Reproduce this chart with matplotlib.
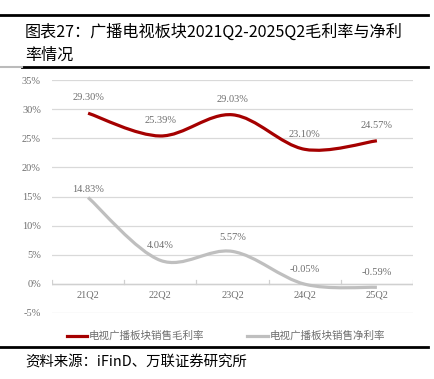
import matplotlib
matplotlib.use("Agg")
import matplotlib.pyplot as plt
from matplotlib.path import Path
from matplotlib.patches import PathPatch
from matplotlib.lines import Line2D
import numpy as np

categories = ["21Q2", "22Q2", "23Q2", "24Q2", "25Q2"]
gross_margin = [29.30, 25.39, 29.03, 23.10, 24.57]
net_margin = [14.83, 4.04, 5.57, -0.05, -0.59]
series_names = ["电视广播板块销售毛利率", "电视广播板块销售净利率"]
yticks = [-5, 0, 5, 10, 15, 20, 25, 30, 35]
title_lines = ["图表27：广播电视板块2021Q2-2025Q2毛利率与净利", "率情况"]
source = "资料来源：iFinD、万联证券研究所"

RED = "#A50000"
GRAY = "#BFBFBF"
TXT = "#6E6E6E"
CJK = ["Noto Sans CJK SC", "DejaVu Sans"]
NUM = ["Liberation Serif", "DejaVu Serif"]

W, H = 434, 379
fig = plt.figure(figsize=(W / 100, H / 100), dpi=100)

def fx(px):
    return px / W

def fy(py):
    return 1 - py / H

ax = fig.add_axes([fx(52), fy(313), fx(413) - fx(52), fy(80) - fy(313)])
ax.set_xlim(0, len(categories))
ax.set_ylim(-5, 35)
for s in ax.spines.values():
    s.set_visible(False)
ax.set_xticks([])
ax.set_yticks(yticks)
ax.set_yticklabels([f"{v}%" for v in yticks], fontfamily=NUM, fontsize=7.5, color=TXT)
ax.tick_params(axis="y", length=0, pad=8)
for v in yticks:
    ax.axhline(v, color="#D9D9D9", lw=0.9, zorder=1)
ax.axhline(0, color="#D0D0D0", lw=1.0, zorder=1)
for b in range(len(categories) + 1):
    ax.plot([b, b], [0, 0.6], color="#D0D0D0", lw=0.9, zorder=1)

xs = np.arange(len(categories)) + 0.5
for i, c in enumerate(categories):
    ax.text(xs[i], -1.9, c, ha="center", va="center", fontfamily=NUM, fontsize=7.5, color=TXT)

def smooth_path(x, y):
    pts = np.column_stack([x, y])
    n = len(pts)
    verts = [pts[0]]
    codes = [Path.MOVETO]
    for i in range(n - 1):
        p0 = pts[i - 1] if i > 0 else pts[i]
        p1 = pts[i]
        p2 = pts[i + 1]
        p3 = pts[i + 2] if i + 2 < n else pts[i + 1]
        c1 = p1 + (p2 - p0) / 6
        c2 = p2 - (p3 - p1) / 6
        verts += [c1, c2, p2]
        codes += [Path.CURVE4] * 3
    return Path(verts, codes)

for vals, col in [(gross_margin, RED), (net_margin, GRAY)]:
    patch = PathPatch(smooth_path(xs, vals), facecolor="none", edgecolor=col, lw=2.3,
                      capstyle="butt", zorder=3)
    ax.add_patch(patch)

for vals, offs in [(gross_margin, [2.7, 2.6, 2.6, 2.6, 2.6]), (net_margin, [1.4, 2.6, 2.4, 2.6, 2.5])]:
    for i, v in enumerate(vals):
        ax.text(xs[i], v + offs[i], f"{v:.2f}%", ha="center", va="center",
                fontfamily=NUM, fontsize=7.5, color=TXT)

# legend
for (x0, x1, tx), col, name in [((67, 87, 89), RED, series_names[0]), ((247, 268, 270), GRAY, series_names[1])]:
    fig.add_artist(Line2D([fx(x0), fx(x1)], [fy(336), fy(336)], color=col, lw=2.3, transform=fig.transFigure))
    fig.text(fx(tx), fy(336), name, ha="left", va="center", fontfamily=CJK, fontsize=7.6, color=TXT)

# frame lines
fig.add_artist(Line2D([fx(0), fx(428)], [fy(15), fy(15)], color="black", lw=2.0, transform=fig.transFigure))
fig.add_artist(Line2D([fx(22), fx(428)], [fy(67), fy(67)], color="black", lw=2.0, transform=fig.transFigure))
fig.add_artist(Line2D([fx(0), fx(22)], [fy(67), fy(67)], color="#BBBBBB", lw=1.5, transform=fig.transFigure))
fig.add_artist(Line2D([fx(0), fx(428)], [fy(347), fy(347)], color="black", lw=2.0, transform=fig.transFigure))

fig.text(fx(25), fy(32), title_lines[0], ha="left", va="center", fontfamily=CJK, fontsize=11.6, color="black")
fig.text(fx(25), fy(55), title_lines[1], ha="left", va="center", fontfamily=CJK, fontsize=11.6, color="black")
fig.text(fx(25), fy(362), source, ha="left", va="center", fontfamily=CJK, fontsize=10.4, color="black",
         style="italic")

fig.savefig("out.png", dpi=100, facecolor="white")
